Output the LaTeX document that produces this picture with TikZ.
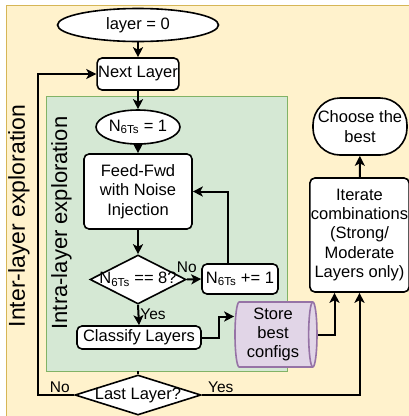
\documentclass[tikz,border=0pt]{standalone}
\usepackage{fontspec}
\setmainfont{Liberation Sans}
\usetikzlibrary{shapes.geometric,arrows.meta,calc}
\definecolor{creamfill}{HTML}{FFF2CC}
\definecolor{creamline}{HTML}{D6B656}
\definecolor{greenfill}{HTML}{D5E8D4}
\definecolor{greenline}{HTML}{82B366}
\definecolor{purplefill}{HTML}{E1D5E7}
\definecolor{purpleline}{HTML}{9673A6}

\begin{document}
\begin{tikzpicture}[x=1pt, y=-1pt,
		every node/.style={font=\fontsize{16.5}{19.3}\selectfont, align=center, inner sep=1pt},
		proc/.style={draw, fill=white, line width=1.6pt, rounded corners=5pt},
		term/.style={draw, fill=white, line width=1.6pt, ellipse, inner sep=0pt},
		dia/.style={draw, fill=white, line width=1.6pt, diamond, inner sep=0pt},
		arr/.style={line width=2pt, -{Stealth[length=10pt, width=10pt, inset=2.5pt]}},
		lbl/.style={font=\fontsize{15.5}{18}\selectfont}]
		\useasboundingbox (0,0) rectangle (409,416);
		\fill[creamfill] (6,5) rectangle (412,420);
		\draw[creamline, line width=1pt] (6,420) -- (6,5) -- (412,5);
		\node[rotate=90, font=\fontsize{23}{27}\selectfont] (inter) at (19,216) {Inter-layer exploration};
		\draw[greenline, fill=greenfill, line width=1pt] (46,96) rectangle (287,371);
		\coordinate (gb) at (138,371);
		\node[rotate=90, font=\fontsize{22}{26}\selectfont] (intra) at (61.5,223) {Intra-layer exploration};

		\node[term, minimum width=161pt, minimum height=33pt] (start) at (138,25) {layer = 0};
		\node[proc, minimum width=80pt, minimum height=32pt] (next) at (138,74) {Next Layer};
		\node[term, minimum width=84pt, minimum height=34pt] (n1) at (138,127) {N\textsubscript{6Ts} = 1};
		\node[proc, minimum width=108pt, minimum height=75pt] (ff) at (138,191.5) {Feed-Fwd\\with Noise\\Injection};
		\node[dia, minimum width=96pt, minimum height=49pt, label=center:{N\textsubscript{6Ts} == 8?}] (dec) at (138,279.5) {};
		\node[proc, minimum width=76pt, minimum height=30pt] (inc) at (240,279) {N\textsubscript{6Ts} += 1};
		\node[proc, minimum width=124pt, minimum height=23pt] (cls) at (139,337.5) {Classify Layers};
		\node[cylinder, draw=purpleline, fill=purplefill, line width=1.6pt, aspect=0.15, minimum width=65pt, minimum height=82pt] (store) at (273,334.5) {Store\\best\\configs};
		\node[dia, minimum width=126pt, minimum height=40pt, label=center:{Last Layer?}] (last) at (138,395) {};
		\node[proc, minimum width=97pt, minimum height=114pt] (iter) at (359.5,235) {Iterate\\combinations\\(Strong/\\Moderate\\Layers only)};
		\node[proc, rounded corners=27pt, minimum width=94pt, minimum height=57pt] (best) at (360,126.5) {Choose the\\best};

		\draw[arr] (start) -- (next);
		\draw[arr] (next) -- (n1);
		\draw[arr] (n1) -- (ff);
		\draw[arr] (ff) -- (dec);
		\draw[arr] (dec.east) -- node[lbl, above=5pt, pos=0] {No} (inc.west);
		\draw[arr] ([xshift=-12pt]inc.north) |- (ff.east);
		\draw[arr] (dec.south) -- node[lbl, right, pos=0.45] {Yes} (cls.north);
		\draw[arr] (cls.east) -- ++(17,0) |- ([yshift=18pt]store.west);
		\draw[arr] (store.east) -| ([xshift=-25pt]iter.south);
		\draw[line width=1.6pt] (gb) -- (last.north);
		\draw[arr] (last.east) -| node[lbl, above, pos=0.06] {Yes} (iter.south);
		\draw[arr] (last.west) -- ++(-36,0) node[lbl, above, pos=0.4] {No} |- (next.west);
		\draw[arr] (iter) -- (best);
	\end{tikzpicture}
\end{document}
